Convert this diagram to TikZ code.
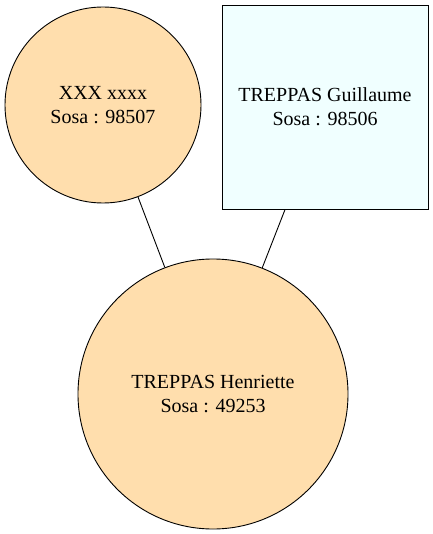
\documentclass[tikz,border=0pt]{standalone}
\usepackage{fontspec}
\setmainfont{Liberation Serif}
\begin{document}
\begin{tikzpicture}[x=1pt,y=-1pt,
  person/.style={draw=black, line width=0.9pt, align=center, inner sep=0pt,
    font=\fontsize{20pt}{24pt}\selectfont, text=black},
  female/.style={person, circle, fill={rgb,255:red,255;green,222;blue,173}},
  male/.style={person, rectangle, fill={rgb,255:red,240;green,255;blue,255}},
  link/.style={draw=black, line width=0.9pt}]
\useasboundingbox (0,0) rectangle (432,534);
\node[female, minimum size=196pt] (a) at (103,105) {XXX xxxx\\Sosa : 98507};
\node[male, minimum width=206pt, minimum height=204pt] (b) at (325,107) {TREPPAS Guillaume\\Sosa : 98506};
\node[female, minimum size=270pt] (c) at (213,394) {TREPPAS Henriette\\Sosa : 49253};
\draw[link] (a) -- (c);
\draw[link] (b) -- (c);
\end{tikzpicture}
\end{document}
